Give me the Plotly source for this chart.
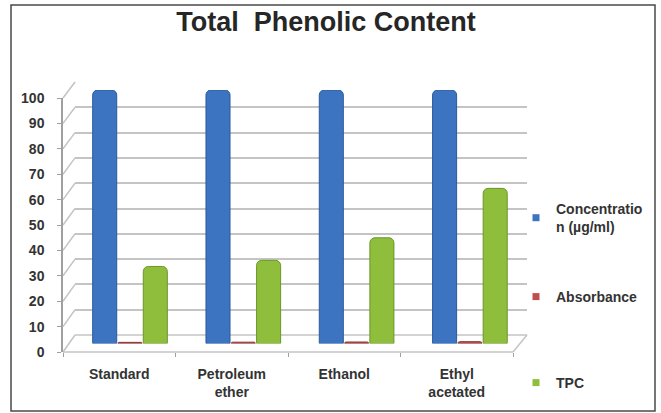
import plotly.graph_objects as go

# ---- data -------------------------------------------------------------
categories = ["Standard", "Petroleum<br>ether", "Ethanol", "Ethyl<br>acetated"]
concentration = [100, 100, 100, 100]          # µg/ml
absorbance = [0.45, 0.52, 0.58, 0.71]
tpc = [30.4, 32.8, 41.7, 61.2]
y_ticks = list(range(0, 101, 10))

series_names = ["Concentratio<br>n (µg/ml)", "Absorbance", "TPC"]
series_colors = ["#3d74c2", "#c0504d", "#8fbe3c"]
edge_colors = ["#2b5a9a", "#8a3330", "#6b9628"]

# ---- page geometry (pixels) ------------------------------------------
FIG_W, FIG_H = 661, 413
L, R, T, B = 63, 527, 75, 360          # plotting box
PW, PH = R - L, B - T

# pseudo 3-D box: front plane (axis labels), middle (columns), back (grid)
FRONT = dict(left=63, right=513, zero=352, top=98)
MID = dict(center0=130, step=113.3, zero=343.5, top=90)
BACK = dict(left=75, right=527, zero=335, top=82)
FRONT_STEP = (FRONT["right"] - FRONT["left"]) / len(categories)


def px(x):
    return (x - L) / PW


def py(y):
    return (B - y) / PH


FONT = "Liberation Sans, Arial, sans-serif"
TXT = "#333333"
GRID = "#c4c4c4"

fig = go.Figure()

# empty trace so the back-plane subplot (grid lines) gets drawn
fig.add_trace(go.Scatter(x=[None], y=[None], mode="markers", xaxis="x",
                         yaxis="y", showlegend=False, hoverinfo="skip"))

# columns on the middle plane
for name, vals, col, edge in zip(series_names, [concentration, absorbance, tpc],
                                 series_colors, edge_colors):
    fig.add_trace(go.Bar(
        x=categories, y=vals, name=name.replace("<br>", ""),
        marker=dict(color=col, line=dict(color=edge, width=1)),
        xaxis="x3", yaxis="y3", showlegend=False,
    ))

# legend entries (one legend per series, spread down the right side)
legend_ids = ["legend", "legend2", "legend3"]
for name, col, lid in zip(series_names, series_colors, legend_ids):
    fig.add_trace(go.Scatter(
        x=[None], y=[None], mode="markers", name=name,
        marker=dict(symbol="square", size=7, color=col),
        xaxis="x2", yaxis="y2", legend=lid, showlegend=True,
    ))

# ---- box decorations --------------------------------------------------
shapes = []
line_style = dict(color=GRID, width=1.5)
fs = (FRONT["zero"] - FRONT["top"]) / 100.0
bs = (BACK["zero"] - BACK["top"]) / 100.0
# left wall: slanted lines joining front ticks to back grid lines
for v in y_ticks:
    shapes.append(dict(type="line", xref="paper", yref="paper",
                       x0=px(FRONT["left"]), y0=py(FRONT["zero"] - v * fs),
                       x1=px(BACK["left"]), y1=py(BACK["zero"] - v * bs),
                       line=line_style, layer="below"))
# floor: front edge, back edge and right side
shapes.append(dict(type="line", xref="paper", yref="paper",
                   x0=px(FRONT["left"]), y0=py(FRONT["zero"]),
                   x1=px(FRONT["right"]), y1=py(FRONT["zero"]),
                   line=line_style, layer="below"))
shapes.append(dict(type="line", xref="paper", yref="paper",
                   x0=px(BACK["left"]), y0=py(BACK["zero"]),
                   x1=px(BACK["right"]), y1=py(BACK["zero"]),
                   line=line_style, layer="below"))
shapes.append(dict(type="line", xref="paper", yref="paper",
                   x0=px(FRONT["right"]), y0=py(FRONT["zero"]),
                   x1=px(BACK["right"]), y1=py(BACK["zero"]),
                   line=line_style, layer="below"))
# outer frame
shapes.append(dict(type="rect", xref="paper", yref="paper",
                   x0=px(11), y0=py(411), x1=px(655), y1=py(5),
                   line=dict(color="#4a4a4a", width=1.5), layer="below"))

tick_font = dict(family=FONT, size=14, color=TXT, weight="bold")

legend_common = dict(
    xanchor="left", yanchor="middle", bgcolor="rgba(0,0,0,0)",
    font=dict(family=FONT, size=14, color=TXT, weight="bold"),
    itemclick=False, itemdoubleclick=False,
)

fig.update_layout(
    width=FIG_W, height=FIG_H,
    margin=dict(l=L, r=FIG_W - R, t=T, b=FIG_H - B, autoexpand=False),
    paper_bgcolor="white", plot_bgcolor="rgba(0,0,0,0)",
    title=dict(text="<b>Total  Phenolic Content</b>",
               font=dict(family=FONT, size=27, color="#262626"),
               x=326 / FIG_W, xref="container", xanchor="center",
               y=1 - 22 / FIG_H, yref="container", yanchor="middle"),
    barmode="group", bargap=0.33, bargroupgap=0.05, barcornerradius=5,
    # back plane: grid lines only
    xaxis=dict(domain=[px(BACK["left"]), px(BACK["right"])], range=[0, 1],
               showticklabels=False, ticks="", showgrid=False,
               zeroline=False, showline=False, anchor="y"),
    yaxis=dict(domain=[py(BACK["zero"]), py(BACK["top"])], range=[0, 100],
               tickvals=y_ticks, showgrid=True, gridcolor=GRID, gridwidth=1.5,
               showticklabels=False, ticks="", zeroline=False, showline=False,
               anchor="x"),
    # front plane: category labels and value axis
    xaxis2=dict(domain=[0, 1], type="category", categoryorder="array",
                categoryarray=categories,
                range=[-0.5, -0.5 + PW / FRONT_STEP],
                tickson="boundaries", ticks="outside", ticklen=4,
                tickcolor="#a0a0a0", showgrid=False, showline=False,
                zeroline=False, tickfont=tick_font, ticklabelstandoff=12,
                anchor="y2"),
    yaxis2=dict(domain=[py(FRONT["zero"]), py(FRONT["top"])], range=[0, 100],
                tickvals=y_ticks, ticks="outside", ticklen=4,
                tickcolor="#a0a0a0", showline=True, linecolor="#a0a0a0",
                linewidth=1.5, showgrid=False, zeroline=False,
                tickfont=tick_font, ticklabelstandoff=10, anchor="x2"),
    # middle plane: the columns
    xaxis3=dict(domain=[0, 1], type="category", categoryorder="array",
                categoryarray=categories,
                range=[-(MID["center0"] - L) / MID["step"],
                       -(MID["center0"] - L) / MID["step"] + PW / MID["step"]],
                visible=False, anchor="y3"),
    yaxis3=dict(domain=[py(MID["zero"]), py(MID["top"])], range=[0, 100],
                visible=False, anchor="x3"),
    shapes=shapes,
    legend=dict(x=px(516), y=py(218), **legend_common),
    legend2=dict(x=px(516), y=py(297), **legend_common),
    legend3=dict(x=px(516), y=py(383), **legend_common),
)

fig.write_html("out.html")
